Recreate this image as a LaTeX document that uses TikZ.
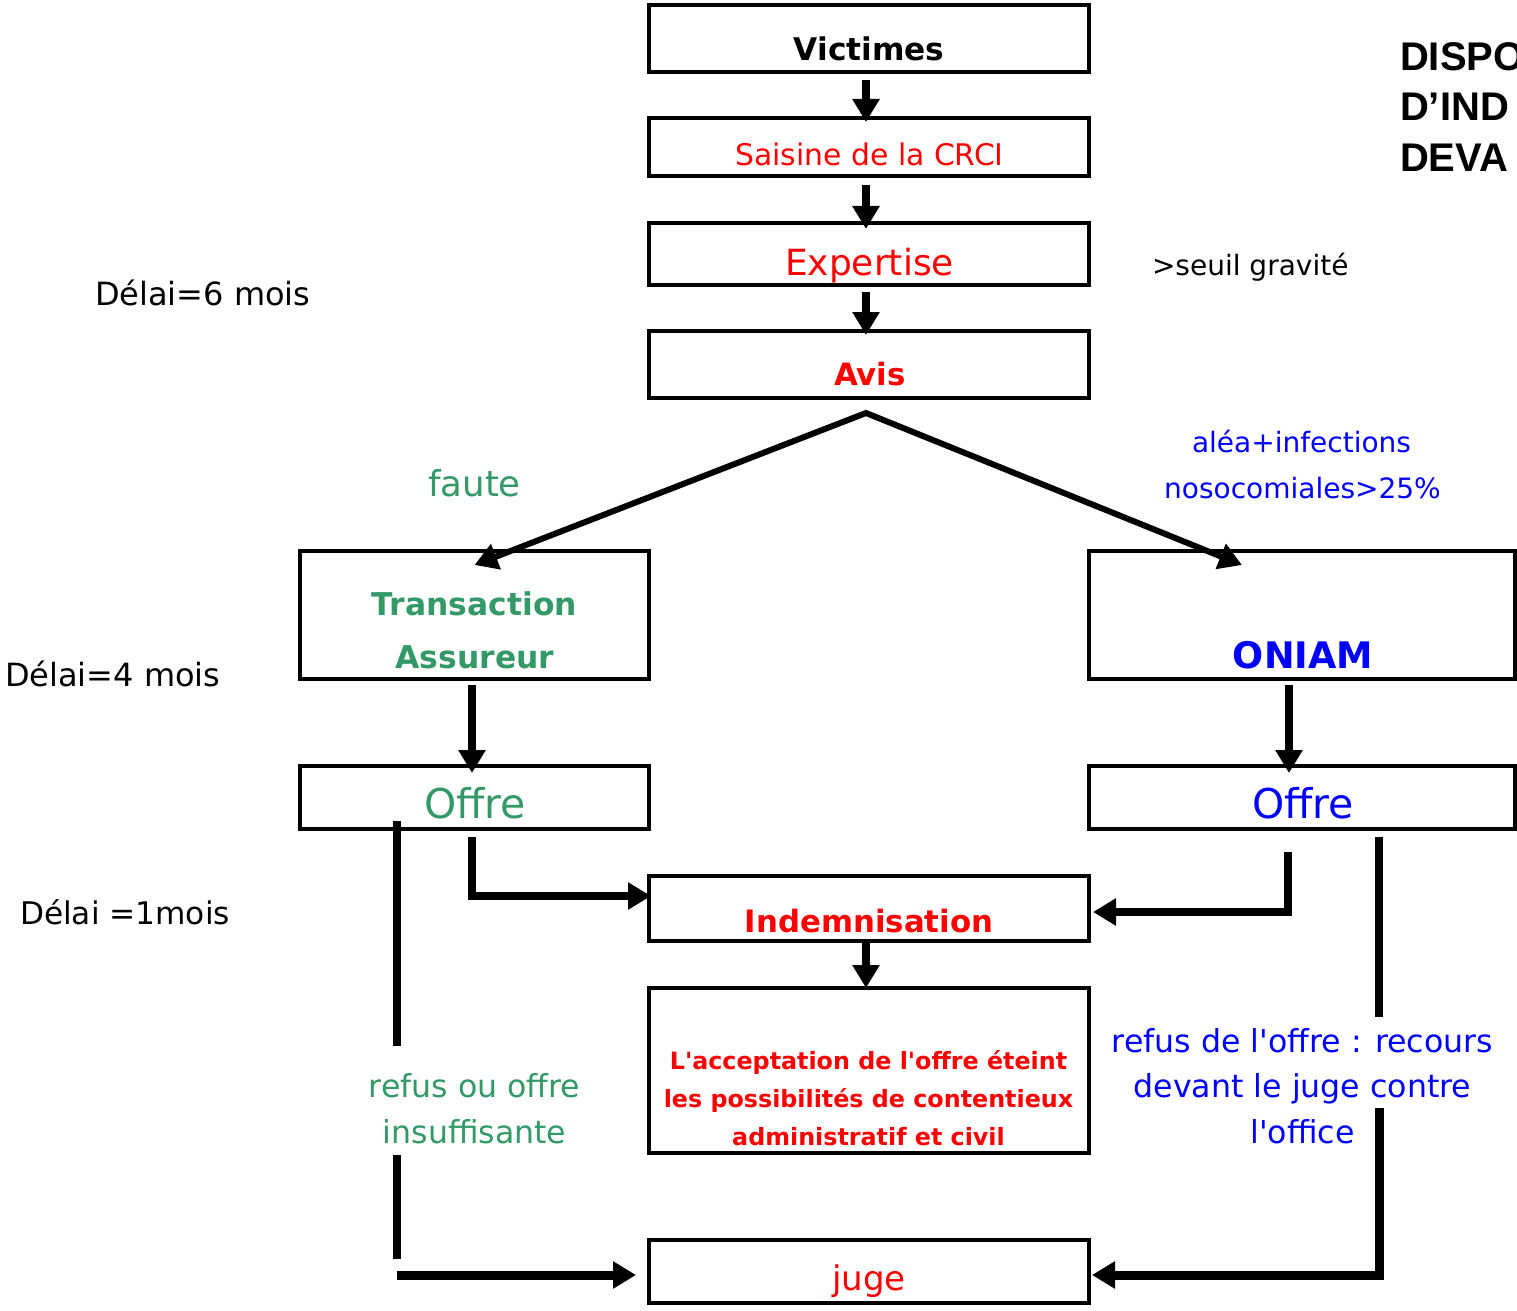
\documentclass[tikz,border=0pt]{standalone}
\usepackage{fontspec}
\setmainfont{DejaVu Sans}
\newfontfamily\titlefont{Liberation Sans}
\usetikzlibrary{arrows.meta}
\definecolor{vert}{RGB}{51,153,102}
\definecolor{rouge}{RGB}{255,0,0}
\definecolor{bleu}{RGB}{0,0,255}
\newcommand{\fsz}[1]{\fontsize{#1pt}{1.2\dimexpr#1pt\relax}\selectfont}
\newcommand{\apo}{\textquotesingle}
\begin{document}
\begin{tikzpicture}[x=0.5pt,y=-0.5pt,
  box/.style={draw=black,line width=2pt,inner sep=0pt,outer sep=0pt},
  txt/.style={anchor=base,inner sep=0pt,outer sep=0pt},
  txtl/.style={anchor=base west,inner sep=0pt,outer sep=0pt},
  arr/.style={line width=4pt,line join=miter,-{Triangle[width=13pt,length=11.5pt]}},
  arrbig/.style={line width=4.5pt,line join=miter,-{Triangle[width=13pt,length=11.5pt]}},
  seg/.style={line width=4pt}]
\useasboundingbox (0,0) rectangle (1517,1311);
\clip (0,0) rectangle (1517,1311);

% boxes
\node[box,minimum width=220pt,minimum height=33.5pt] (vict) at (869,38.5) {};
\node[box,minimum width=220pt,minimum height=29pt] (sais) at (869,147) {};
\node[box,minimum width=220pt,minimum height=31pt] (expe) at (869,254) {};
\node[box,minimum width=220pt,minimum height=33.5pt] (avis) at (869,364.5) {};
\node[box,minimum width=174.5pt,minimum height=64pt] (trans) at (474.5,615) {};
\node[box,minimum width=213pt,minimum height=64pt] (oniam) at (1302,615) {};
\node[box,minimum width=174.5pt,minimum height=31.5pt] (offreL) at (474.5,797.5) {};
\node[box,minimum width=213pt,minimum height=31.5pt] (offreR) at (1302,797.5) {};
\node[box,minimum width=220pt,minimum height=32.5pt] (indem) at (869,908.5) {};
\node[box,minimum width=220pt,minimum height=82.5pt] (accept) at (869,1070.5) {};
\node[box,minimum width=220pt,minimum height=31.5pt] (juge) at (869,1271.5) {};

% texts in boxes
\node[txt,font=\bfseries\fsz{15.6}] (tvict) at (869,61) {Victimes};
\node[txt,text=rouge,font=\fsz{14.9}] (tsais) at (869.5,166) {Saisine de la CRCI};
\node[txt,text=rouge,font=\fsz{18}] (texpe) at (869.5,275) {Expertise};
\node[txt,text=rouge,font=\bfseries\fsz{15.4}] (tavis) at (870,385) {Avis};
\node[txt,text=vert,font=\bfseries\fsz{15.7}] (ttrans1) at (474.5,615) {Transaction};
\node[txt,text=vert,font=\bfseries\fsz{15.7}] (ttrans2) at (475,668) {Assureur};
\node[txt,text=bleu,font=\bfseries\fsz{18.3}] (toniam) at (1303,668) {ONIAM};
\node[txt,text=vert,font=\fsz{20.5}] (toffreL) at (475,818) {Offre};
\node[txt,text=bleu,font=\fsz{20.5}] (toffreR) at (1303,818) {Offre};
\node[txt,text=rouge,font=\bfseries\fsz{15.4}] (tindem) at (869,932) {Indemnisation};
\node[txt,text=rouge,font=\bfseries\fsz{11.9}] (tacc1) at (868.5,1069) {L\apo acceptation de l\apo offre éteint};
\node[txt,text=rouge,font=\bfseries\fsz{11.9}] (tacc2) at (868.5,1107) {les possibilités de contentieux};
\node[txt,text=rouge,font=\bfseries\fsz{11.9}] (tacc3) at (868.5,1145) {administratif et civil};
\node[txt,text=rouge,font=\fsz{17}] (tjuge) at (869,1290) {juge};

% free texts
\node[txtl,font=\titlefont\bfseries\fsz{20}] (title1) at (1400,71) {DISPO};
\node[txtl,font=\titlefont\bfseries\fsz{20}] (title2) at (1400,121) {D’IND};
\node[txtl,font=\titlefont\bfseries\fsz{20}] (title3) at (1400,172) {DEVA};
\node[txtl,font=\fsz{14}] (seuil) at (1152,276) {>seuil gravité};
\node[txtl,font=\fsz{16}] (delai6) at (95,306) {Délai=6 mois};
\node[txtl,font=\fsz{16}] (delai4) at (5,686) {Délai=4 mois};
\node[txtl,font=\fsz{15.6}] (delai1) at (20,924) {Délai =1mois};
\node[txt,text=vert,font=\fsz{17.8}] (faute) at (474.5,496) {faute};
\node[txt,text=bleu,font=\fsz{14}] (alea1) at (1301.5,452) {aléa+infections};
\node[txt,text=bleu,font=\fsz{14}] (alea2) at (1302.5,498) {nosocomiales>25\%};
\node[txt,text=vert,font=\fsz{15.8}] (refus1) at (474.5,1097) {refus ou offre};
\node[txt,text=vert,font=\fsz{15.8}] (refus2) at (474.5,1143) {insuffisante};
\node[txt,text=bleu,font=\fsz{15.8}] (recours1) at (1302.5,1052) {refus de l\apo offre : recours};
\node[txt,text=bleu,font=\fsz{15.8}] (recours2) at (1302.5,1097) {devant le juge contre};
\node[txt,text=bleu,font=\fsz{15.8}] (recours3) at (1302.5,1143) {l\apo office};

% vertical chain
\draw[arr] ([xshift=-1.5pt,yshift=-4pt]vict.south) -- ([xshift=-1.5pt,yshift=-2pt]sais.north);
\draw[arr] ([xshift=-1.5pt,yshift=-4.5pt]sais.south) -- ([xshift=-1.5pt,yshift=-3pt]expe.north);
\draw[arr] ([xshift=-1.5pt,yshift=-3.5pt]expe.south) -- ([xshift=-1.5pt,yshift=-2pt]avis.north);

% split
\coordinate (apex) at ([xshift=-1.5pt,yshift=-7.5pt]avis.south);
\draw[line width=3pt,line join=miter,{Triangle[width=13pt,length=11.5pt]}-{Triangle[width=13pt,length=11.5pt]}]
  ([yshift=-7pt]trans.north) -- (apex) -- ([xshift=-30pt,yshift=-7pt]oniam.north);

\draw[arr] ([xshift=-1.25pt,yshift=-3pt]trans.south) -- ([xshift=-1.25pt,yshift=-3.5pt]offreL.north);
\draw[arr] ([xshift=-6.5pt,yshift=-3pt]oniam.south) -- ([xshift=-6.5pt,yshift=-3.5pt]offreR.north);

\draw[arr] ([xshift=-1.25pt,yshift=-4pt]offreL.south) |- ([xshift=1pt,yshift=6.25pt]indem.west);
\draw[arr] ([xshift=-7pt,yshift=-11.5pt]offreR.south) |- ([xshift=2pt,yshift=-1.75pt]indem.east);
\draw[arr] ([xshift=-1.5pt,yshift=-1pt]indem.south) -- ([xshift=-1.5pt]accept.north);

% refusal routes
\coordinate (l1) at (397,821);
\coordinate (l2) at (397,1046);
\coordinate (l3) at (397,1155);
\coordinate (l4) at (397,1259);
\coordinate (l5) at (397,1275);
\draw[seg] (l1) -- (l2);
\draw[seg] (l3) -- (l4);
\draw[arrbig] (l5) -- ([xshift=-6.5pt,yshift=-1.75pt]juge.west);

\coordinate (r1) at (1379,837);
\coordinate (r2) at (1379,1017);
\coordinate (r3) at (1379,1108);
\draw[seg] (r1) -- (r2);
\draw[arrbig] (r3) |- ([xshift=1.5pt,yshift=-1.75pt]juge.east);
\end{tikzpicture}
\end{document}
